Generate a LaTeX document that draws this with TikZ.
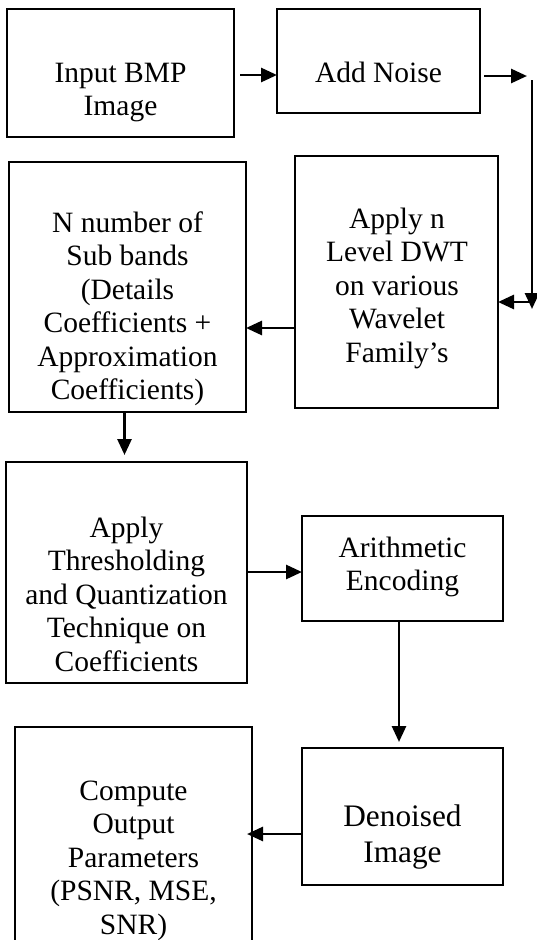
\documentclass[tikz,border=0pt]{standalone}
\usepackage{fontspec}
\setmainfont{Liberation Serif}
\usetikzlibrary{arrows.meta}
\begin{document}
\begin{tikzpicture}[x=1pt,y=-1pt,
  box/.style={draw, line width=1.8pt, inner sep=0pt, outer sep=0pt},
  % multi-line labels sit on the baseline of their last line
  lbl/.style={anchor=base, align=center, inner sep=0pt,
    font=\fontsize{29.5}{33.5}\selectfont},
  biglbl/.style={lbl, font=\fontsize{31.3}{36}\selectfont},
  arr/.style={line width=2.8pt, -{Triangle[length=16pt,width=14pt]}}]

\useasboundingbox (0,0) rectangle (537,940);
\clip (0,0) rectangle (537,940);

% process boxes
\node[box, minimum width=227pt, minimum height=128pt] (b1) at (120.5,73) {};
\node[box, minimum width=203pt, minimum height=104pt] (b2) at (378.5,61) {};
\node[box, minimum width=203pt, minimum height=252pt] (b3) at (396.5,282) {};
\node[box, minimum width=237pt, minimum height=250pt] (b4) at (127.5,287) {};
\node[box, minimum width=241pt, minimum height=221pt] (b5) at (126.5,572.5) {};
\node[box, minimum width=201pt, minimum height=105pt] (b6) at (402.5,568.5) {};
\node[box, minimum width=237pt, minimum height=238pt] (b7) at (133.5,846) {};
\node[box, minimum width=201pt, minimum height=137pt] (b8) at (402.5,816.5) {};

% box texts
\node[lbl] (t1) at (120.5,115.5) {Input BMP\\Image};
\node[lbl] (t2) at (378.5,82) {Add Noise};
\node[lbl] (t3) at (397,362) {Apply n\\Level DWT\\on various\\Wavelet\\Family’s};
\node[lbl] (t4) at (127.5,399.5) {N number of\\Sub bands\\(Details\\Coefficients +\\Approximation\\Coefficients)};
\node[lbl] (t5) at (126.5,671) {Apply\\Thresholding\\and Quantization\\Technique on\\Coefficients};
\node[lbl] (t6) at (402.5,590.5) {Arithmetic\\Encoding};
\node[biglbl] (t8) at (402.5,862) {Denoised\\Image};
\node[lbl] (t7) at (133.5,934) {Compute\\Output\\Parameters\\(PSNR, MSE,\\SNR)};

% connector levels
\coordinate (k1) at (0,75);
\coordinate (c1) at (527,76);
\coordinate (c2) at (532,80);
\coordinate (c3) at (532,309);
\coordinate (c4) at (532,302);
\coordinate (k3) at (0,328);
\coordinate (k5) at (0,572);
\coordinate (k7) at (0,834);

% connectors
\draw[arr] ([xshift=6pt]b1.east |- k1) -- (b2.west |- k1);
\draw[arr] ([xshift=4pt]b2.east |- c1) -- (c1);
\draw[arr] (c2) -- (c3);
\draw[arr] (c4) -- (c4 -| b3.east);
\draw[arr] (b3.west |- k3) -- (b4.east |- k3);
\draw[arr] ([xshift=-3pt]b4.south) -- ([xshift=-2pt,yshift=7pt]b5.north);
\draw[arr] (b5.east |- k5) -- (b6.west |- k5);
\draw[arr] ([xshift=-3.5pt]b6.south) -- ([xshift=-3.5pt,yshift=6pt]b8.north);
\draw[arr] (b8.west |- k7) -- ([xshift=-5pt]b7.east |- k7);
\end{tikzpicture}
\end{document}
